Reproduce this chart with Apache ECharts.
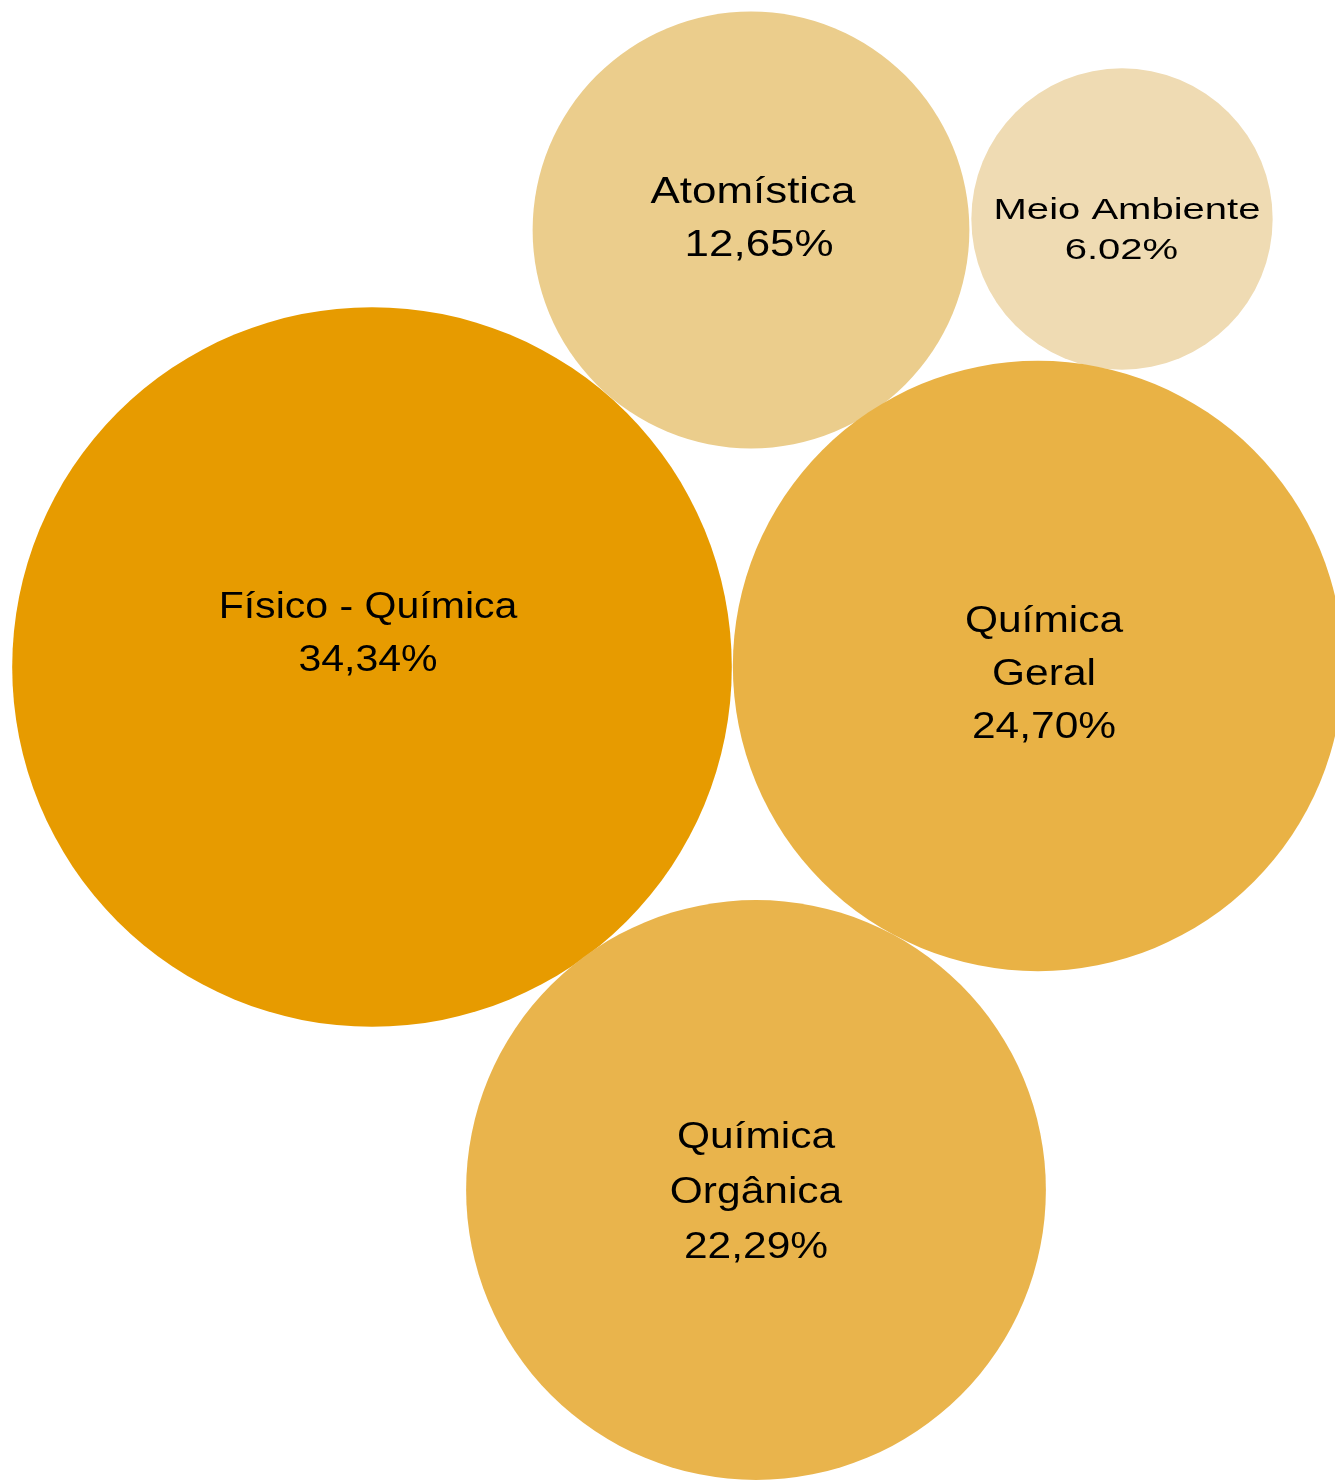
<!DOCTYPE html>
<html>
<head>
<meta charset="utf-8">
<script src="https://cdn.jsdelivr.net/npm/echarts@6/dist/echarts.min.js"></script>
<style>
html,body{margin:0;padding:0;background:#fff;}
#chart{width:1335px;height:1480px;}
</style>
</head>
<body>
<div id="chart"></div>
<script>
// Data
var categories = ['Físico - Química', 'Atomística', 'Meio Ambiente', 'Química\nGeral', 'Química\nOrgânica'];
var percentLabels = ['34,34%', ' 12,65%', '6.02% ', '24,70%', '22,29%'];
var values = [34.34, 12.65, 6.02, 24.70, 22.29];
// Packed layout positions (axis units)
var xPos = [372, 751, 1122, 1038, 756];
var yPos = [667, 230, 219, 666, 1190];
// Styles
var colors = ['#E79B00', '#EBCD8C', '#EFDBB3', '#E9B245', '#E9B44C'];
var labelDx = [-4, 2, 5, 6, 0];
var labelDy = [-32, -10, 12, 9, 3];
var fontSizes = [36, 36, 29, 36, 36];
var lineHeights = [53, 53, 40, 53, 55];
var scaleXs = [1.14, 1.22, 1.38, 1.18, 1.18];
var K = 61.4; // radius per sqrt(value)

var chart = echarts.init(document.getElementById('chart'));
var seriesData = values.map(function (v, i) { return [xPos[i], yPos[i], v]; });

chart.setOption({
  animation: false,
  grid: { left: 0, right: 0, top: 0, bottom: 0 },
  xAxis: { type: 'value', min: 0, max: 1335, show: false },
  yAxis: { type: 'value', min: 0, max: 1480, inverse: true, show: false },
  series: [{
    type: 'custom',
    coordinateSystem: 'cartesian2d',
    data: seriesData,
    renderItem: function (params, api) {
      var i = params.dataIndex;
      var c = api.coord([api.value(0), api.value(1)]);
      var r = api.size([Math.sqrt(api.value(2)) * K, 0])[0];
      return {
        type: 'group',
        children: [
          { type: 'circle', shape: { cx: c[0], cy: c[1], r: r }, style: { fill: colors[i] } },
          {
            type: 'text',
            x: c[0] + labelDx[i],
            y: c[1] + labelDy[i],
            scaleX: scaleXs[i],
            style: {
              text: categories[i] + '\n' + percentLabels[i],
              fontFamily: '"Liberation Sans", Arial, sans-serif',
              fontSize: fontSizes[i],
              lineHeight: lineHeights[i],
              align: 'center',
              verticalAlign: 'middle',
              fill: '#000'
            }
          }
        ]
      };
    }
  }]
});
</script>
</body>
</html>
